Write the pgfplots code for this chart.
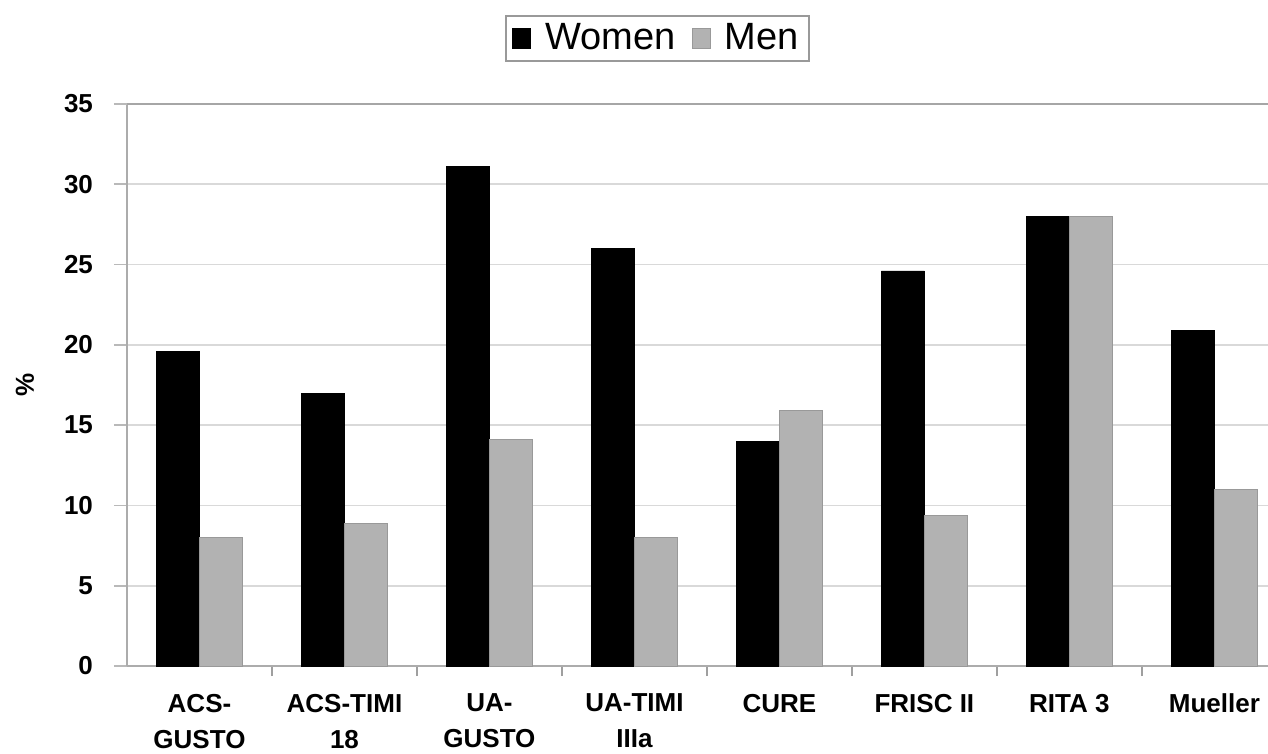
\documentclass[border=0pt]{standalone}
\usepackage{pgfplots}
\pgfplotsset{compat=1.18}
\usepackage{fontspec}
\setmainfont{Liberation Sans}
\definecolor{mengray}{RGB}{178,178,178}
\begin{document}
\begin{tikzpicture}
\begin{axis}[
  name=ax,
  scale only axis, width=570.5pt, height=281pt,
  xmin=-0.5, xmax=7.37, ymin=0, ymax=35,
  axis x line=bottom, axis y line=left,
  axis line style={-, draw=gray!65, line width=0.9pt},
  ybar=0pt, bar width=21.5pt,
  ytick={0,5,...,30}, extra y ticks={35},
  extra y tick style={grid style={gray!70, line width=1.3pt}},
  ymajorgrids, grid style={gray!30, line width=0.9pt},
  xtick={0,...,7},
  xticklabels={{ACS-\\GUSTO},{ACS-TIMI\\18},{UA-\\GUSTO},{UA-TIMI\\IIIa},{CURE},{FRISC II},{RITA 3},{Mueller}},
  major x tick style={draw=none},
  minor xtick={0.5,1.5,...,6.5},
  minor x tick style={draw=gray!75, line width=0.9pt},
  y tick style={draw=gray!55, line width=0.9pt},
  tick align=outside, major tick length=6.5pt, minor tick length=5pt,
  xticklabel style={align=center, font=\bfseries\fontsize{13}{18}\selectfont, yshift=-4pt, text depth=0pt},
  yticklabel style={font=\bfseries\fontsize{13}{15}\selectfont, xshift=-7pt},
  /pgf/number format/assume math mode=true,
  ylabel={\%}, ylabel style={at={(axis description cs:0,0.5)}, yshift=51pt, anchor=center, font=\bfseries\fontsize{13}{15}\selectfont},
  legend style={at={(0.465,1)}, anchor=south, yshift=21pt, draw=gray!80, line width=1pt,
    font=\fontsize{19}{22}\selectfont, legend columns=2,
    /tikz/every odd column/.append style={column sep=5pt},
    /tikz/every even column/.append style={column sep=6pt}},
  legend image code/.code={\draw[#1, line width=0.5pt] (0pt,-5pt) rectangle (9pt,5pt);},
]
\addplot[fill=black, draw=black] coordinates {(0,19.6) (1,17.0) (2,31.1) (3,26.0) (4,14.0) (5,24.6) (6,28.0) (7,20.9)};
\addplot[fill=mengray, draw=gray!80] coordinates {(0,8.0) (1,8.9) (2,14.1) (3,8.0) (4,15.9) (5,9.4) (6,28.0) (7,11.0)};
\legend{Women, Men}
\end{axis}
\pgfresetboundingbox
\path[use as bounding box] ([xshift=-63.5pt, yshift=-44pt]ax.south west) rectangle ([yshift=52pt]ax.north east);
\end{tikzpicture}
\end{document}
